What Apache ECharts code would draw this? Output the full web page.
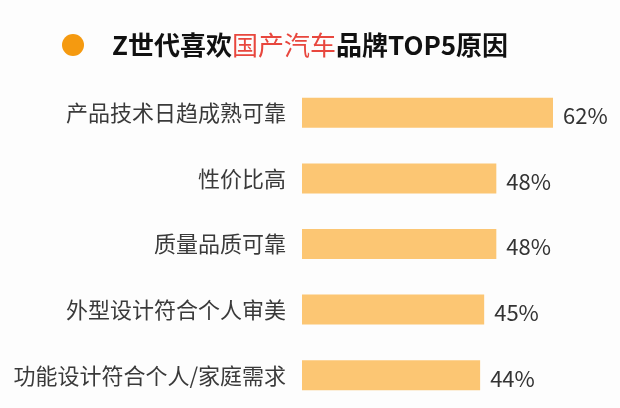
<!DOCTYPE html>
<html>
<head>
	<meta charset="utf-8">
	<title>Z世代喜欢国产汽车品牌TOP5原因</title>
	<script type="text/javascript" src="https://cdn.jsdelivr.net/npm/echarts@6/dist/echarts.min.js"></script>
	<style>html,body{margin:0;padding:0;background:#fdfdfd}</style>
</head>
<body>
	<div id="main" style="width:620px;height:408px;"></div>
	<script type="text/javascript">
		// 数据
		var reasons = ['产品技术日趋成熟可靠', '性价比高', '质量品质可靠', '外型设计符合个人审美', '功能设计符合个人/家庭需求'];
		var percents = [62, 48, 48, 45, 44];
		// 标签相对柱子的上移量(像素)
		var labelLift = [0, 1, 5, 6, 11];

		var myChart = echarts.init(document.getElementById('main'));

		var catData = reasons.map(function (name, i) {
			return { value: name, textStyle: { padding: [0, 0, labelLift[i] * 2, 0] } };
		});

		var option = {
			backgroundColor: '#fdfdfd',
			title: {
				text: '{a|Z世代喜欢}{b|国产汽车}{a|品牌TOP5原因}',
				left: 107,
				top: 27,
				textStyle: {
					rich: {
						a: { fontSize: 26, fontWeight: 'bold', color: '#111', fontFamily: 'Noto Sans CJK SC' },
						b: { fontSize: 26, fontWeight: 'normal', color: '#e8473e', fontFamily: 'Noto Sans CJK SC' }
					}
				}
			},
			graphic: [{
				type: 'circle',
				shape: { cx: 73, cy: 45, r: 11 },
				style: { fill: '#f59a10' }
			}],
			grid: { left: 302, right: 67, top: 80, bottom: -2 },
			xAxis: {
				type: 'value',
				min: 0,
				max: 62,
				show: false
			},
			yAxis: {
				type: 'category',
				inverse: true,
				data: catData,
				axisLine: { show: false },
				axisTick: { show: false },
				axisLabel: {
					margin: 16,
					fontSize: 22,
					color: '#3a3a3a',
					fontFamily: 'Noto Sans CJK SC'
				}
			},
			series: [{
				type: 'bar',
				data: percents,
				barWidth: 30,
				itemStyle: { color: '#fcc673' },
				label: {
					show: true,
					position: 'right',
					distance: 10,
					offset: [0, 3],
					formatter: '{c}%',
					fontSize: 22,
					color: '#333',
					fontFamily: 'Noto Sans CJK SC'
				},
				silent: true
			}]
		};

		myChart.setOption(option);
	</script>
</body>
</html>
